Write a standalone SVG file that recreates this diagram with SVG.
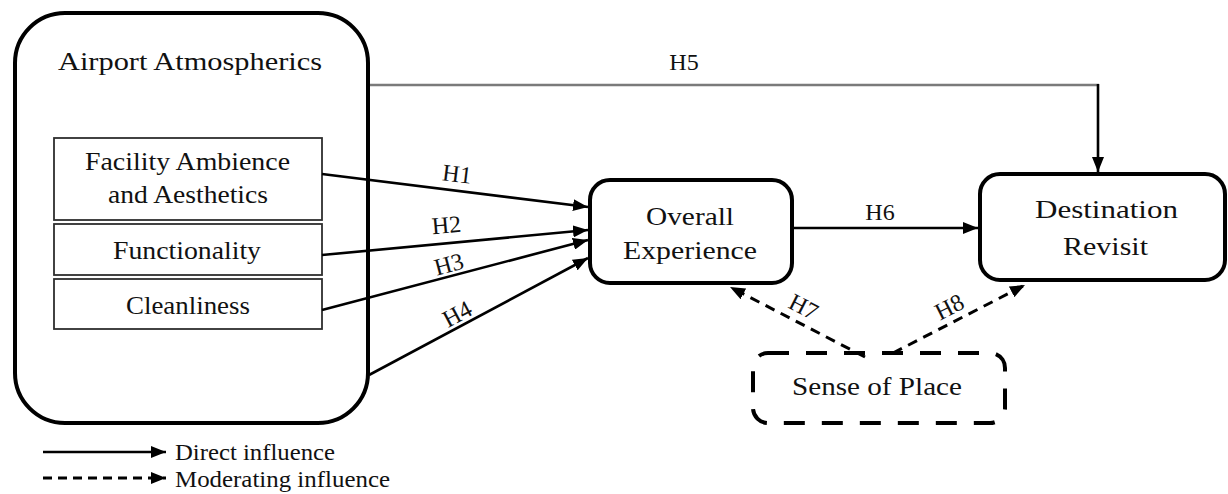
<svg xmlns="http://www.w3.org/2000/svg" width="1228" height="494" viewBox="0 0 1228 494">
  <style>
    text { font-family: "Liberation Serif", "Times New Roman", serif; fill: #111111; }
    .node { fill: #ffffff; stroke: #000000; stroke-width: 4; }
    .sub { fill: #ffffff; stroke: #2e2e2e; stroke-width: 1.8; }
    .lbl { font-size: 26px; }
    .hyp { font-size: 24px; }
    .leg { font-size: 24px; }
    .edge { fill: none; stroke: #000000; stroke-width: 2.6; }
    .dash { fill: none; stroke: #000000; stroke-width: 3; stroke-dasharray: 10 7; }
  </style>
  <defs>
    <marker id="arrow" markerUnits="userSpaceOnUse" markerWidth="15" markerHeight="12" refX="15" refY="6" orient="auto">
      <path d="M0,0 L15,6 L0,12 z" fill="#000000"/>
    </marker>
  </defs>

  <rect width="1228" height="494" fill="#ffffff"/>

  <!-- Airport Atmospherics with its three dimensions -->
  <g id="airport-atmospherics">
    <rect class="node" x="15" y="13" width="353" height="410" rx="50" ry="50"/>
    <text class="lbl" x="58" y="70" font-size="27" textLength="264" lengthAdjust="spacingAndGlyphs">Airport Atmospherics</text>
  </g>
  <g id="facility-ambience">
    <rect class="sub" x="54" y="138" width="268" height="82"/>
    <text class="lbl" x="85" y="170" textLength="205" lengthAdjust="spacingAndGlyphs">Facility Ambience</text>
    <text class="lbl" x="108" y="203" textLength="160" lengthAdjust="spacingAndGlyphs">and Aesthetics</text>
  </g>
  <g id="functionality">
    <rect class="sub" x="54" y="224" width="268" height="51"/>
    <text class="lbl" x="113" y="259" textLength="148" lengthAdjust="spacingAndGlyphs">Functionality</text>
  </g>
  <g id="cleanliness">
    <rect class="sub" x="54" y="279" width="268" height="50"/>
    <text class="lbl" x="126" y="314" textLength="124" lengthAdjust="spacingAndGlyphs">Cleanliness</text>
  </g>

  <!-- Overall Experience -->
  <g id="overall-experience">
    <rect class="node" x="590" y="180" width="202" height="103" rx="20" ry="20"/>
    <text class="lbl" x="646" y="225" textLength="88" lengthAdjust="spacingAndGlyphs">Overall</text>
    <text class="lbl" x="623" y="259" textLength="134" lengthAdjust="spacingAndGlyphs">Experience</text>
  </g>

  <!-- Destination Revisit -->
  <g id="destination-revisit">
    <rect class="node" x="980" y="174" width="245" height="106" rx="20" ry="20"/>
    <text class="lbl" x="1035" y="218" textLength="143" lengthAdjust="spacingAndGlyphs">Destination</text>
    <text class="lbl" x="1063" y="255" textLength="85" lengthAdjust="spacingAndGlyphs">Revisit</text>
  </g>

  <!-- Sense of Place (moderator) -->
  <g id="sense-of-place">
    <rect x="753" y="353" width="252" height="70" rx="15" ry="15" fill="#ffffff" stroke="#000000" stroke-width="4" stroke-dasharray="21 17"/>
    <text class="lbl" x="792" y="395" textLength="170" lengthAdjust="spacingAndGlyphs">Sense of Place</text>
  </g>

  <!-- Hypothesised paths -->
  <g id="connectors">
    <line class="edge" x1="322" y1="174" x2="588" y2="207" marker-end="url(#arrow)"/>
    <line class="edge" x1="322" y1="255" x2="588" y2="230" marker-end="url(#arrow)"/>
    <line class="edge" x1="322" y1="310" x2="588" y2="240" marker-end="url(#arrow)"/>
    <line class="edge" x1="369" y1="375" x2="588" y2="258" marker-end="url(#arrow)"/>
    <line x1="370" y1="85" x2="1099" y2="85" stroke="#7a7a7a" stroke-width="2.4"/>
    <path class="edge" d="M1098,84 L1098,172" marker-end="url(#arrow)"/>
    <line class="edge" x1="792" y1="228" x2="978" y2="228" marker-end="url(#arrow)"/>
    <line class="dash" x1="865" y1="357" x2="730" y2="287" marker-end="url(#arrow)"/>
    <line class="dash" x1="893" y1="353" x2="1025" y2="285" marker-end="url(#arrow)"/>

    <text class="hyp" x="456" y="182" text-anchor="middle" transform="rotate(7 456 182)">H1</text>
    <text class="hyp" x="447" y="233" text-anchor="middle" transform="rotate(-5 447 233)">H2</text>
    <text class="hyp" x="451" y="272" text-anchor="middle" transform="rotate(-15 451 272)">H3</text>
    <text class="hyp" x="461" y="321" text-anchor="middle" transform="rotate(-28 461 321)">H4</text>
    <text class="hyp" x="684" y="70" text-anchor="middle">H5</text>
    <text class="hyp" x="880" y="220" text-anchor="middle">H6</text>
    <text class="hyp" x="800" y="314" text-anchor="middle" transform="rotate(27 800 314)">H7</text>
    <text class="hyp" x="953" y="314" text-anchor="middle" transform="rotate(-27 953 314)">H8</text>
  </g>

  <!-- Legend -->
  <g id="legend">
    <line class="edge" x1="43" y1="452" x2="166" y2="452" marker-end="url(#arrow)"/>
    <text class="leg" x="175" y="460" textLength="160" lengthAdjust="spacingAndGlyphs">Direct influence</text>
    <line x1="43" y1="478" x2="166" y2="478" stroke="#000000" stroke-width="3" stroke-dasharray="9 6" marker-end="url(#arrow)"/>
    <text class="leg" x="175" y="487" textLength="215" lengthAdjust="spacingAndGlyphs">Moderating influence</text>
  </g>
</svg>
